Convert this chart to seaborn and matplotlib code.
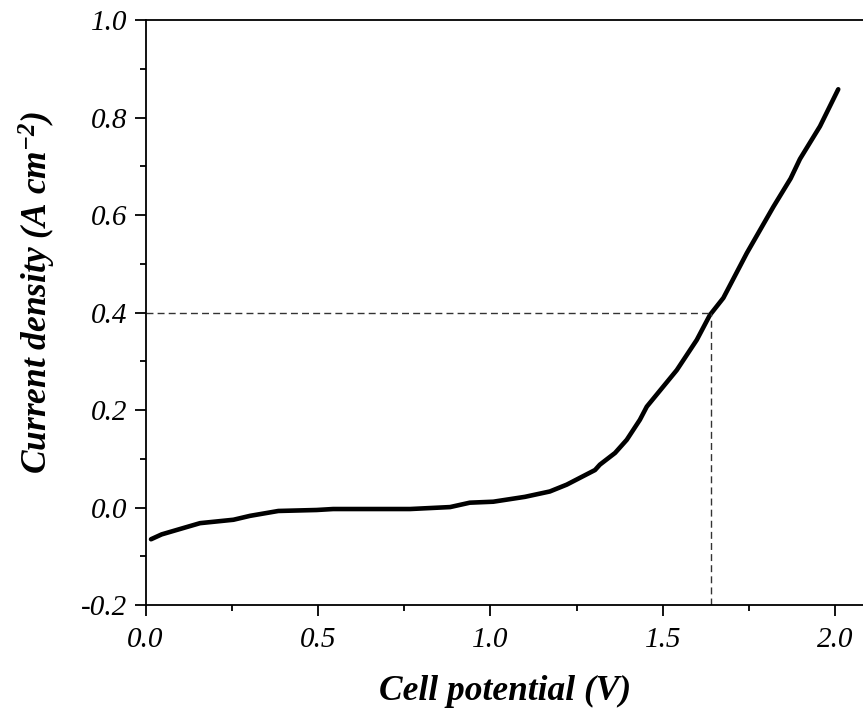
import numpy as np
import pandas as pd
import matplotlib
matplotlib.use("Agg")
import matplotlib.pyplot as plt
import seaborn as sns
from matplotlib.ticker import MultipleLocator

# polarisation curve
potential = [0.016, 0.047, 0.10, 0.158, 0.255, 0.303, 0.385, 0.496, 0.544, 0.767,
             0.883, 0.94, 1.008, 1.10, 1.172, 1.221, 1.303, 1.317, 1.361, 1.395,
             1.433, 1.453, 1.54, 1.598, 1.636, 1.675, 1.743, 1.82, 1.870, 1.897,
             1.955, 2.008]
current = [-0.065, -0.055, -0.044, -0.032, -0.025, -0.017, -0.007, -0.005, -0.003, -0.003,
           0.001, 0.010, 0.012, 0.022, 0.033, 0.047, 0.077, 0.088, 0.112, 0.139,
           0.180, 0.207, 0.282, 0.344, 0.395, 0.430, 0.522, 0.617, 0.675, 0.715,
           0.782, 0.858]

ref_current = 0.4
ref_potential = 1.639

df = pd.DataFrame({"potential": potential, "current": current})

sns.set_style("ticks")
plt.rcParams["font.family"] = ["Liberation Serif", "DejaVu Serif"]
plt.rcParams["mathtext.default"] = "regular"
plt.rcParams["text.color"] = "black"
plt.rcParams["axes.labelcolor"] = "black"
plt.rcParams["xtick.color"] = "black"
plt.rcParams["ytick.color"] = "black"

fig = plt.figure(figsize=(8.63, 7.11), dpi=100)
ax = fig.add_axes([0.1686, 0.149, 0.8395, 0.8228])

sns.lineplot(data=df, x="potential", y="current", color="black", linewidth=3.3,
             sort=False, ax=ax)

ax.plot([0, ref_potential], [ref_current, ref_current], color="#333333",
        linestyle=(0, (5, 3)), linewidth=1.0)
ax.plot([ref_potential, ref_potential], [-0.2, ref_current], color="#333333",
        linestyle=(0, (5, 3)), linewidth=1.0)

ax.set_xlim(0, 2.1)
ax.set_ylim(-0.2, 1.0)
ax.xaxis.set_major_locator(MultipleLocator(0.5))
ax.xaxis.set_minor_locator(MultipleLocator(0.25))
ax.yaxis.set_major_locator(MultipleLocator(0.2))
ax.yaxis.set_minor_locator(MultipleLocator(0.1))
ax.xaxis.set_major_formatter(lambda v, p: f"{v:.1f}")
ax.yaxis.set_major_formatter(lambda v, p: f"{v:.1f}")

for s in ax.spines.values():
    s.set_linewidth(1.3)
    s.set_color("black")

ax.tick_params(which="major", length=8, width=1.3, direction="out", color="black")
ax.tick_params(which="minor", length=4, width=1.3, direction="out", color="black")
ax.tick_params(axis="x", which="major", pad=8)
ax.tick_params(axis="y", which="major", pad=5)
for lab in ax.get_xticklabels() + ax.get_yticklabels():
    lab.set_fontstyle("italic")
    lab.set_fontsize(21)
    lab.set_color("black")

ax.set_xlabel("Cell potential (V)", fontsize=25.5, fontweight="bold", fontstyle="italic")
ax.set_ylabel(r"Current density (A cm$^{-2}$)", fontsize=25.5, fontweight="bold",
              fontstyle="italic")
ax.xaxis.set_label_coords((505 - 145.5) / (0.8395 * 863), -(675 - 605) / (0.8228 * 711))
ax.yaxis.set_label_coords(-(145.5 - 58) / (0.8395 * 863), (605 - 292) / (0.8228 * 711))

fig.savefig("out.png", dpi=100)
